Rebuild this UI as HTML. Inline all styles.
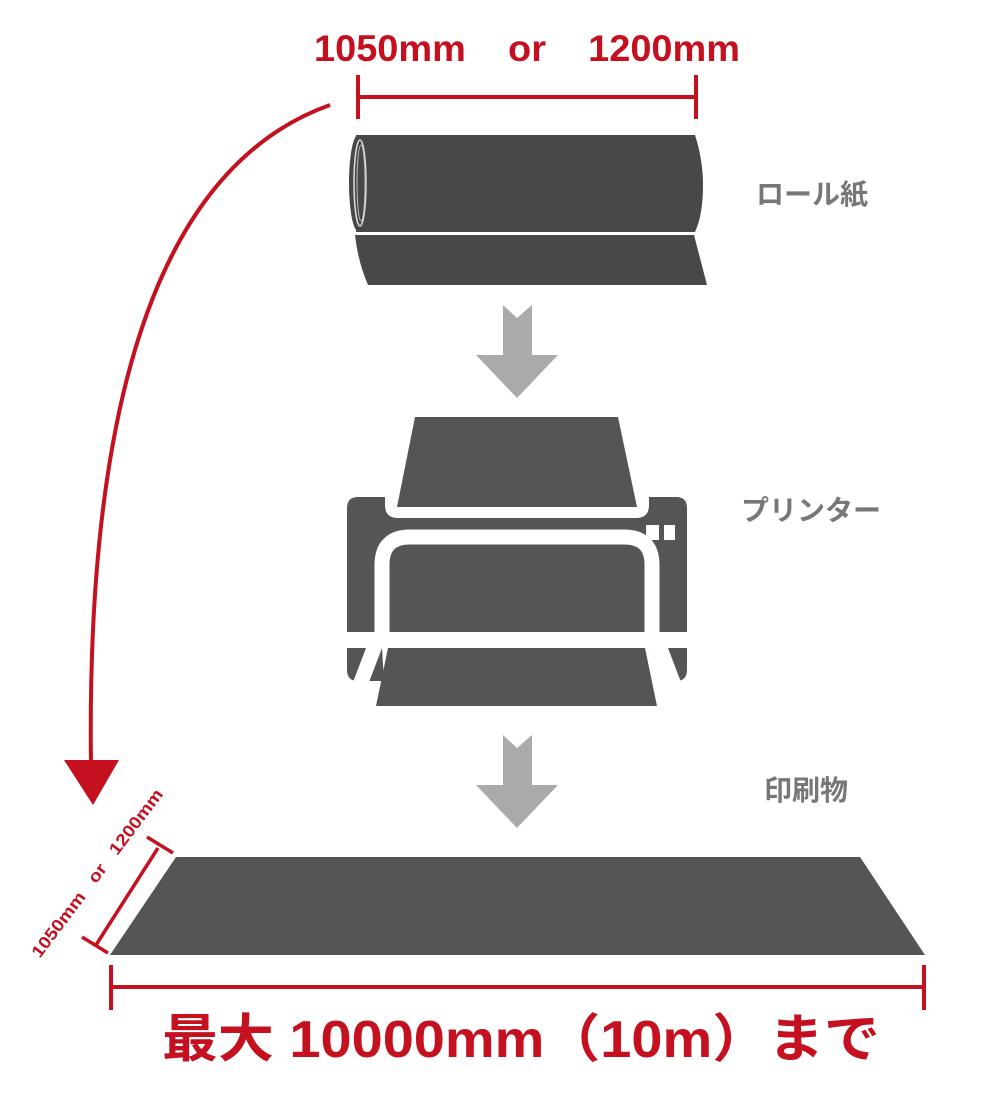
<!DOCTYPE html>
<html><head><meta charset="utf-8"><style>
html,body{margin:0;padding:0;background:#fff}
svg{display:block}
text{font-family:"Liberation Sans","Noto Sans CJK JP",sans-serif;font-weight:bold}
</style></head><body>
<svg width="1000" height="1098" viewBox="0 0 1000 1098" xmlns="http://www.w3.org/2000/svg">
<!-- top dimension -->
<text x="314" y="61" font-size="37" fill="#c4101f" textLength="426" lengthAdjust="spacingAndGlyphs" xml:space="preserve">1050mm    or    1200mm</text>
<g stroke="#c4101f" stroke-width="4" fill="none">
<line x1="358" y1="75" x2="358" y2="119"/><line x1="696" y1="75" x2="696" y2="119"/>
<line x1="358" y1="97" x2="696" y2="97"/>
</g>
<!-- roll -->
<path d="M356,135 L695,135 Q703,160 703,185 Q703,215 695,232 L356,232 Z" fill="#484848"/>
<ellipse cx="358" cy="183" rx="9" ry="48" fill="#484848"/>
<ellipse cx="360" cy="183" rx="6" ry="43" fill="none" stroke="#ddd" stroke-width="1.5"/>
<ellipse cx="361" cy="183" rx="4" ry="38" fill="none" stroke="#bbb" stroke-width="1"/>
<path d="M355,235 L694,235 L707,285 L368,285 Q358,262 355,235 Z" fill="#484848"/>
<text x="812" y="204" font-size="28" fill="#777" text-anchor="middle">ロール紙</text>
<!-- arrows -->
<g fill="#aaa">
<path d="M503,305 L517,318 L532,305 L532,355 L558,355 L517,398 L476,355 L503,355 Z"/>
<path transform="translate(0,430)" d="M503,305 L517,318 L532,305 L532,355 L558,355 L517,398 L476,355 L503,355 Z"/>
</g>
<!-- printer -->
<g fill="#555">
<polygon points="415,417 618,417 637,507 397,507"/>
<path d="M358,497 L385,497 L385,505 Q385,518 398,518 L636,518 Q649,518 649,505 L649,497 L676,497 Q687,497 687,508 L687,635 L347,635 L347,508 Q347,497 358,497 Z"/>
<path d="M347,648 L687,648 L687,670 Q687,681 676,681 L358,681 Q347,681 347,670 Z" />
</g>
<path d="M382,640 L382,565 Q382,537 410,537 L624,537 Q652,537 652,565 L652,640" fill="none" stroke="#fff" stroke-width="15"/>
<rect x="398" y="553" width="238" height="79" rx="8" fill="#555"/>
<rect x="398" y="600" width="238" height="32" fill="#555"/>
<rect x="340" y="632" width="360" height="16" fill="#fff"/>
<polygon points="366,648 382,648 366,690 350,690" fill="#fff"/>
<polygon points="652,648 668,648 684,690 668,690" fill="#fff"/>
<polygon points="382,648 652,648 668,681 384,681" fill="#fff"/>
<polygon points="388,648 645,648 657,706 376,706" fill="#555"/>
<rect x="646" y="525" width="13" height="15" fill="#fff"/>
<rect x="664" y="525" width="11" height="15" fill="#fff"/>
<text x="811" y="520" font-size="28" fill="#777" text-anchor="middle">プリンター</text>
<text x="806" y="800" font-size="28" fill="#777" text-anchor="middle">印刷物</text>
<!-- red curve -->
<path d="M330,105 C190,155 85,330 91,765" fill="none" stroke="#c4101f" stroke-width="4"/>
<polygon points="64,760 119,760 93,805" fill="#c4101f"/>
<!-- sheet -->
<polygon points="176,857 860,857 925,955 110,955" fill="#555"/>
<!-- diagonal dim -->
<g stroke="#c4101f" stroke-width="3.5" fill="none">
<line x1="96" y1="945" x2="158" y2="848"/>
<line x1="82" y1="937" x2="108" y2="953"/>
<line x1="147" y1="837" x2="173" y2="853"/>
</g>
<text transform="translate(97,873) rotate(-53)" x="-103" y="6" font-size="17" fill="#c4101f" textLength="206" lengthAdjust="spacingAndGlyphs" xml:space="preserve">1050mm   or   1200mm</text>
<!-- bottom dim -->
<g stroke="#c4101f" stroke-width="4" fill="none">
<line x1="111" y1="965" x2="111" y2="1010"/><line x1="924" y1="965" x2="924" y2="1010"/>
<line x1="111" y1="987" x2="924" y2="987"/>
</g>
<text x="162" y="1057" font-size="52" fill="#c4101f" textLength="718" lengthAdjust="spacingAndGlyphs">最大 10000mm（10m）まで</text>
</svg>
</body></html>
